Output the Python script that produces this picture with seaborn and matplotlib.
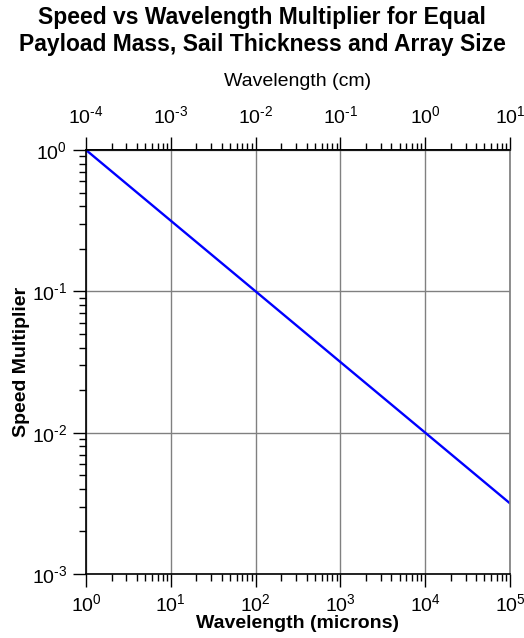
import matplotlib
matplotlib.use("Agg")
import matplotlib.pyplot as plt
import seaborn as sns
import numpy as np
import pandas as pd
from matplotlib.ticker import LogLocator, NullFormatter, FuncFormatter

sns.set_theme(style="white")
plt.rcParams['font.family'] = ['Liberation Sans', 'DejaVu Sans']
plt.rcParams['mathtext.fontset'] = 'custom'
plt.rcParams['mathtext.rm'] = 'Liberation Sans'
plt.rcParams['mathtext.it'] = 'Liberation Sans:italic'
plt.rcParams['mathtext.bf'] = 'Liberation Sans:bold'
for k in ['text.color', 'axes.labelcolor', 'xtick.color', 'ytick.color']:
    plt.rcParams[k] = 'black'

wavelength_um = [1, 10, 100, 1000, 10000, 100000]
speed_mult = [1.0, 0.316, 0.1, 0.0316, 0.01, 0.00316]

df = pd.DataFrame({"wavelength": wavelength_um, "speed": speed_mult})


def pow_fmt(v, pos):
    e = int(round(np.log10(v)))
    if e < 0:
        return r"$10^{\text{-}%d}$" % (-e)
    return r"$10^{%d}$" % e


MAJ_LEN = 9.5
MIN_LEN = 5
TICK_FS = 14

fig = plt.figure(figsize=(5.24, 6.38), dpi=100)
ax = fig.add_axes([86/524, 64/638, 424/524, 424/638])

sns.lineplot(data=df, x="wavelength", y="speed", color="#0000ff", lw=1.7, ax=ax)
ax.set_xscale("log")
ax.set_yscale("log")
ax.set_xlim(1, 1e5)
ax.set_ylim(1e-3, 1)

ax.grid(True, which="major", color="#808080", lw=1)
ax.xaxis.set_major_locator(LogLocator(base=10, numticks=10))
ax.xaxis.set_minor_locator(LogLocator(base=10, subs=np.arange(2, 10), numticks=20))
ax.yaxis.set_major_locator(LogLocator(base=10, numticks=10))
ax.yaxis.set_minor_locator(LogLocator(base=10, subs=np.arange(2, 10), numticks=20))
ax.xaxis.set_major_formatter(FuncFormatter(pow_fmt))
ax.yaxis.set_major_formatter(FuncFormatter(pow_fmt))
ax.xaxis.set_minor_formatter(NullFormatter())
ax.yaxis.set_minor_formatter(NullFormatter())

ax.tick_params(which="major", direction="out", length=MAJ_LEN, width=1, color="black",
               labelsize=TICK_FS, bottom=True, left=True)
ax.tick_params(axis="x", which="major", pad=4)
ax.tick_params(axis="y", which="major", pad=4)
ax.tick_params(which="minor", direction="out", length=MIN_LEN, width=1, color="black",
               bottom=True, left=True)

for s in ["left", "bottom"]:
    ax.spines[s].set_color("black")
    ax.spines[s].set_linewidth(1.2)
ax.spines["right"].set_color("#808080")
ax.spines["top"].set_color("black")
ax.spines["top"].set_linewidth(1.2)

ax.set_xlabel("Wavelength (microns)", fontsize=14, fontweight="bold", labelpad=0)
ax.set_ylabel("Speed Multiplier", fontsize=14, fontweight="bold", labelpad=1)

sec = ax.secondary_xaxis("top", functions=(lambda x: x / 1e4, lambda x: x * 1e4))
sec.xaxis.set_major_locator(LogLocator(base=10, numticks=10))
sec.xaxis.set_minor_locator(LogLocator(base=10, subs=np.arange(2, 10), numticks=20))
sec.xaxis.set_major_formatter(FuncFormatter(pow_fmt))
sec.xaxis.set_minor_formatter(NullFormatter())
sec.tick_params(which="major", direction="out", length=MAJ_LEN, width=1, color="black",
                labelsize=TICK_FS, pad=7)
sec.tick_params(which="minor", direction="out", length=MIN_LEN, width=1, color="black")
sec.spines["top"].set_color("black")
sec.set_xlabel("Wavelength (cm)", fontsize=14, labelpad=14)

fig.suptitle("Speed vs Wavelength Multiplier for Equal\nPayload Mass, Sail Thickness and Array Size",
             fontsize=16.5, fontweight="bold", y=0.99, linespacing=1.22)

fig.savefig("out.png", dpi=100)
